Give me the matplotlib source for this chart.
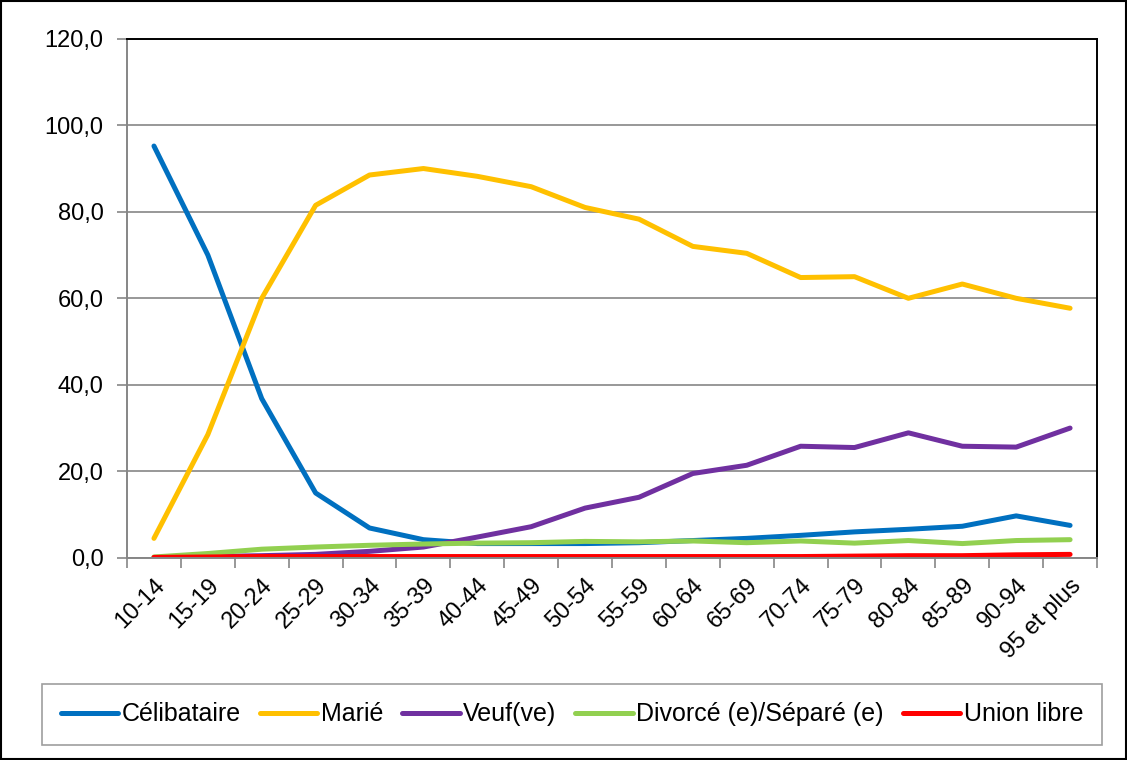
import matplotlib
matplotlib.use("Agg")
import matplotlib.pyplot as plt
from matplotlib.patches import Rectangle
import numpy as np

plt.rcParams['font.family'] = ['Liberation Sans', 'DejaVu Sans']

categories = ['10-14', '15-19', '20-24', '25-29', '30-34', '35-39', '40-44', '45-49',
              '50-54', '55-59', '60-64', '65-69', '70-74', '75-79', '80-84', '85-89',
              '90-94', '95 et plus']

celibataire = [95.2, 70.0, 36.8, 15.0, 6.9, 4.2, 3.3, 3.3, 3.3, 3.5, 4.0, 4.5, 5.2, 6.0, 6.6, 7.3, 9.7, 7.5]
marie = [4.5, 28.5, 60.0, 81.5, 88.5, 90.0, 88.2, 85.8, 81.0, 78.3, 72.0, 70.4, 64.8, 65.0, 60.0, 63.3, 60.0, 57.7]
veuf = [0.0, 0.3, 0.5, 0.8, 1.5, 2.5, 4.8, 7.2, 11.5, 14.0, 19.5, 21.4, 25.8, 25.5, 28.9, 25.8, 25.6, 30.0]
divorce = [0.2, 1.0, 2.0, 2.5, 2.9, 3.2, 3.4, 3.5, 3.8, 3.7, 3.9, 3.5, 3.9, 3.4, 4.0, 3.3, 4.0, 4.2]
union_libre = [0.1, 0.2, 0.3, 0.3, 0.3, 0.3, 0.3, 0.3, 0.3, 0.3, 0.3, 0.3, 0.3, 0.4, 0.5, 0.5, 0.7, 0.8]

series = [
    ('Célibataire', celibataire, '#0070C0'),
    ('Marié', marie, '#FFC000'),
    ('Veuf(ve)', veuf, '#7030A0'),
    ('Divorcé (e)/Séparé (e)', divorce, '#92D050'),
    ('Union libre', union_libre, '#FF0000'),
]

fig = plt.figure(figsize=(11.27, 7.6), dpi=100)
ax = fig.add_axes([0.1127, 0.266, 0.8607, 0.683])

x = np.arange(len(categories))
for name, vals, col in series:
    ax.plot(x, vals, color=col, lw=3.6, label=name, solid_capstyle='round')

ax.set_xlim(-0.5, len(categories) - 0.5)
ax.set_ylim(0, 120)
ax.set_yticks(np.arange(0, 121, 20))
ax.set_yticklabels([f"{v:.1f}".replace('.', ',') for v in np.arange(0, 121, 20)], fontsize=17)
ax.yaxis.grid(True, color='#868686', lw=1.2)
ax.set_axisbelow(True)

ax.set_xticks(x)
ax.set_xticklabels(categories, rotation=45, ha='right', rotation_mode='anchor', fontsize=17)
ax.set_xticks(np.arange(-0.5, len(categories)), minor=True)
ax.tick_params(axis='x', which='major', length=0, pad=12)
ax.tick_params(axis='x', which='minor', length=7, color='#868686', width=1.2, direction='out')
ax.tick_params(axis='y', length=7, color='#868686', width=1.2, direction='out', pad=10)

for side in ['left', 'bottom']:
    ax.spines[side].set_color('#868686')
    ax.spines[side].set_linewidth(1.4)
for side in ['top', 'right']:
    ax.spines[side].set_color('black')
    ax.spines[side].set_linewidth(1.4)

leg = fig.legend(loc='lower left', bbox_to_anchor=(42 / 1127, 15 / 760, 1060 / 1127, 62 / 760),
                 mode='expand', ncol=5, fontsize=18, frameon=True, fancybox=False,
                 handlelength=2.3, handletextpad=0.15, borderpad=0.75, borderaxespad=0)
leg.get_frame().set_edgecolor('#868686')
leg.get_frame().set_linewidth(1.2)

fig.patches.append(Rectangle((0.001, 0.001), 0.998, 0.998, transform=fig.transFigure,
                             fill=False, edgecolor='black', lw=1.5))

fig.savefig('out.png', dpi=100)
